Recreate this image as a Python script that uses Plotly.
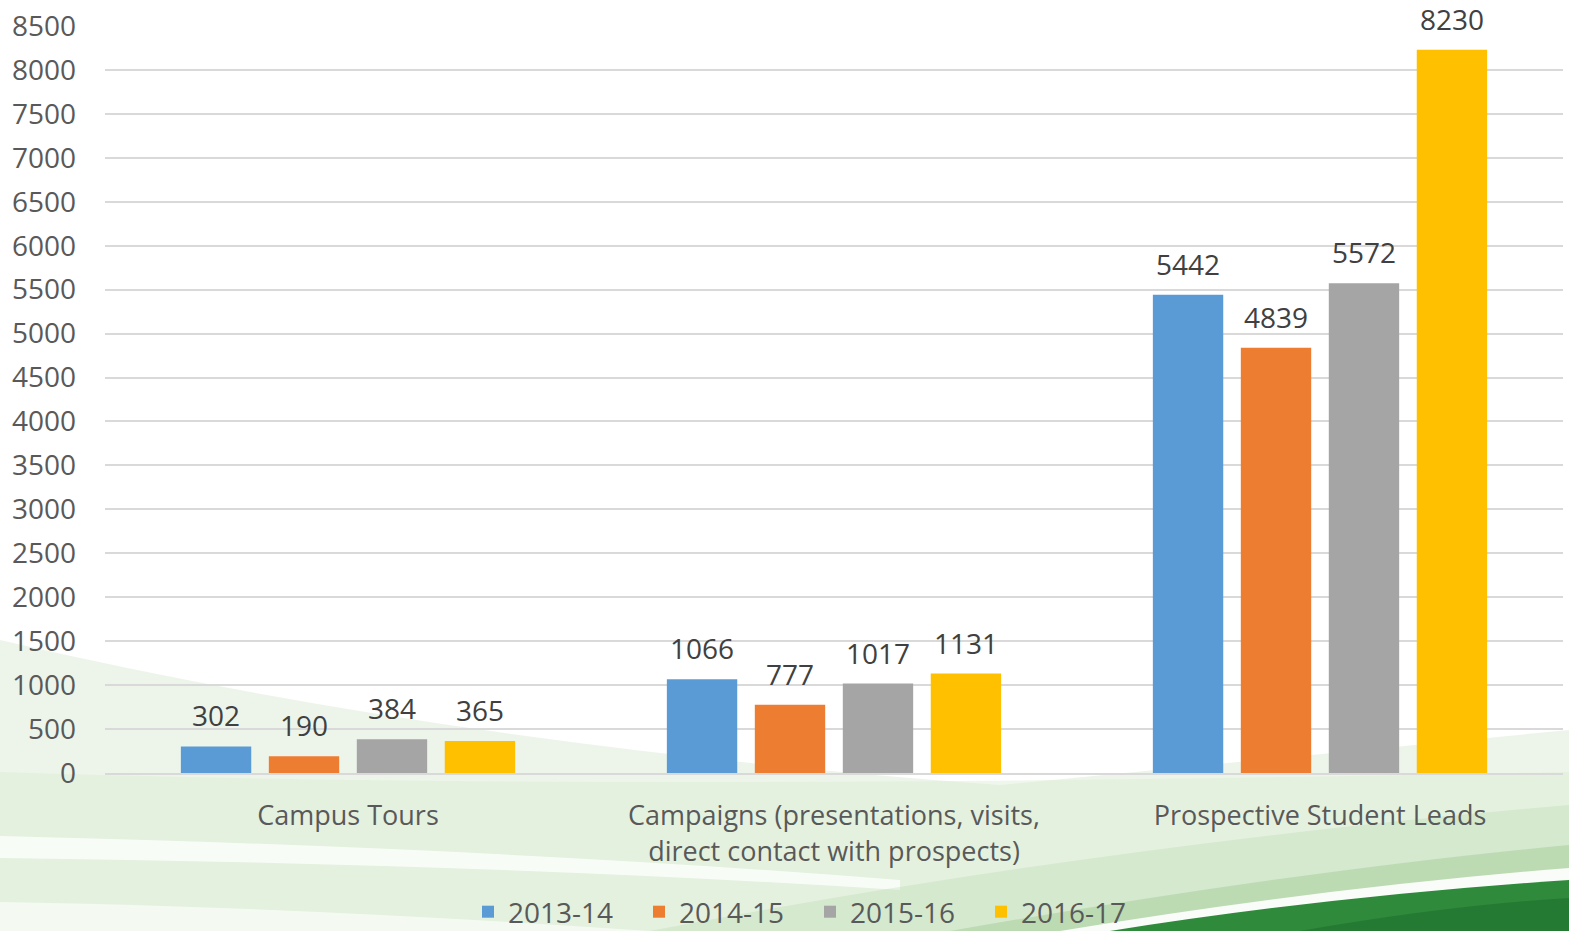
import plotly.graph_objects as go

# --- data -------------------------------------------------------------------
categories = [
    "Campus Tours",
    "Campaigns (presentations, visits,<br>direct contact with prospects)",
    "Prospective Student Leads",
]
years = ["2013-14", "2014-15", "2015-16", "2016-17"]
values_2013_14 = [302, 1066, 5442]
values_2014_15 = [190, 777, 4839]
values_2015_16 = [384, 1017, 5572]
values_2016_17 = [365, 1131, 8230]
y_ticks = list(range(0, 8501, 500))

series = [values_2013_14, values_2014_15, values_2015_16, values_2016_17]
colors = ["#5B9BD5", "#ED7D31", "#A5A5A5", "#FFC000"]

W, H = 1569, 931
M_L, M_R, M_T, M_B = 105, 6, 26, 158
PLOT_W = W - M_L - M_R
PLOT_H = H - M_T - M_B
FONT = "Open Sans"
TXT = "#595959"

fig = go.Figure()
for name, vals, col in zip(years, series, colors):
    fig.add_trace(go.Bar(name=name, x=categories, y=vals, marker_color=col,
                         marker_line_width=0))

# value labels above each bar
n = len(series)
slot = PLOT_W / len(categories) * (1 - 0.276) / n
for i, vals in enumerate(series):
    for cat, v in zip(categories, vals):
        fig.add_annotation(x=cat, y=v, text=str(v), showarrow=False,
                           xshift=(i - (n - 1) / 2) * slot, yanchor="bottom",
                           yshift=10, font=dict(family=FONT, size=28, color="#404040"))


# decorative green swoosh background (pixel coords -> paper coords)
def P(px, py):
    return f"{(px - M_L) / PLOT_W:.5f},{(H - M_B - py) / PLOT_H:.5f}"


def path(*cmds):
    out = []
    for c in cmds:
        if isinstance(c, str):
            out.append(c)
        else:
            out.append(P(*c))
    return " ".join(out)


bg = [
    (path("M", (0, 640), "Q", (450, 745), (1000, 785), "L", (1569, 730), "L", (1569, 931),
          "L", (0, 931), "Z"), "rgba(210,230,202,0.40)"),
    (path("M", (0, 772), "Q", (600, 792), (1569, 772), "L", (1569, 931), "L", (0, 931), "Z"),
     "rgba(215,234,208,0.40)"),
    (path("M", (0, 836), "Q", (500, 848), (900, 880), "L", (900, 890), "Q", (500, 864),
          (0, 858), "Z"), "rgba(255,255,255,0.75)"),
    (path("M", (0, 902), "Q", (300, 907), (650, 931), "L", (0, 931), "Z"),
     "rgba(255,255,255,0.6)"),
    (path("M", (650, 931), "Q", (1100, 845), (1569, 805), "L", (1569, 931), "Z"),
     "rgba(180,215,170,0.30)"),
    (path("M", (950, 931), "Q", (1300, 870), (1569, 845), "L", (1569, 931), "Z"),
     "rgba(150,198,140,0.40)"),
    (path("M", (1060, 931), "Q", (1320, 888), (1569, 868), "L", (1569, 931), "Z"),
     "rgba(255,255,255,0.9)"),
    (path("M", (1110, 931), "Q", (1330, 896), (1569, 880), "L", (1569, 931), "Z"),
     "#2f8a3c"),
    (path("M", (1300, 931), "Q", (1450, 905), (1569, 898), "L", (1569, 931), "Z"),
     "rgba(30,110,45,0.6)"),
]
for d, col in bg:
    fig.add_shape(type="path", path=d, xref="paper", yref="paper", fillcolor=col,
                  line_width=0, layer="below")

fig.update_layout(
    width=W, height=H,
    margin=dict(l=M_L, r=M_R, t=M_T, b=M_B, pad=0, autoexpand=False),
    paper_bgcolor="white", plot_bgcolor="rgba(0,0,0,0)",
    barmode="group", bargap=0.276, bargroupgap=0.2,
    font=dict(family=FONT, size=28, color=TXT),
    showlegend=True,
    legend=dict(orientation="h", x=(810 - M_L) / PLOT_W, xanchor="center",
                y=(H - M_B - 887) / PLOT_H, yanchor="top",
                font=dict(family=FONT, size=28, color=TXT),
                entrywidth=126, entrywidthmode="pixels",
                bgcolor="rgba(0,0,0,0)", itemclick=False),
    xaxis=dict(showgrid=False, showline=True, linecolor="#d9d9d9", linewidth=2,
               ticks="", ticklabelstandoff=18, automargin=False,
               tickfont=dict(size=27, color=TXT)),
    yaxis=dict(range=[0, 8500], tickvals=y_ticks, showgrid=True, gridcolor="#d9d9d9",
               gridwidth=2, zeroline=False, showline=False, ticks="", automargin=False,
               ticklabelstandoff=28, tickfont=dict(size=28, color=TXT)),
)

fig.write_html("out.html")
